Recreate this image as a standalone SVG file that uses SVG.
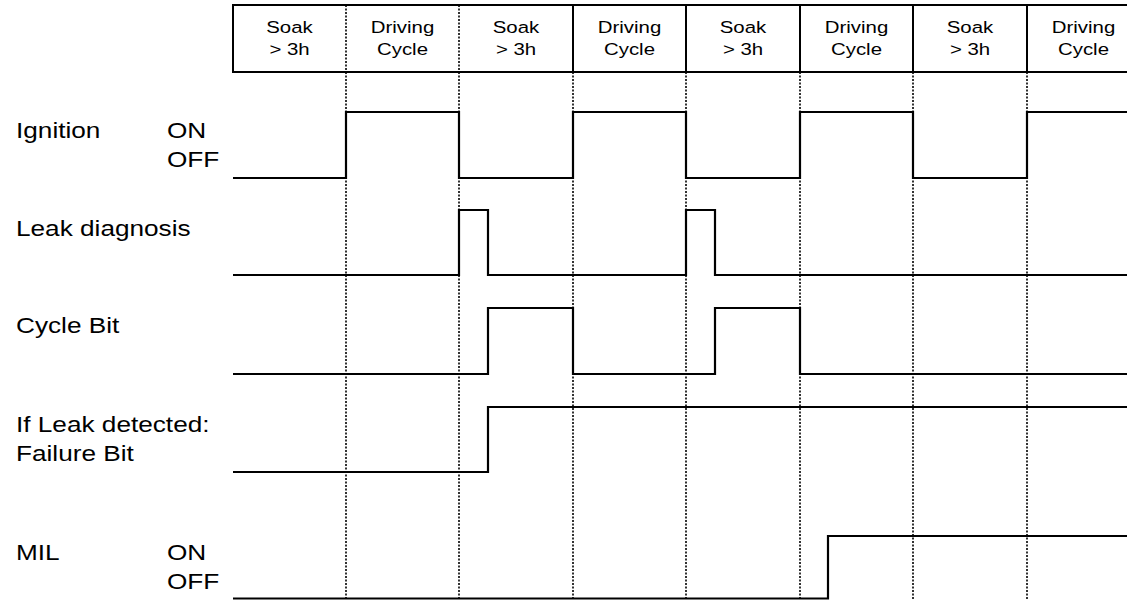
<svg xmlns="http://www.w3.org/2000/svg" width="1127" height="600" viewBox="0 0 1127 600">
<style>
.hdr{font-family:"Liberation Sans",Arial,sans-serif;font-size:17px;fill:#000;text-anchor:middle}
.lbl{font-family:"Liberation Sans",Arial,sans-serif;font-size:22px;fill:#000}
.frame{stroke:#000;stroke-width:2;fill:none}
.grid{stroke:#333;stroke-width:2;stroke-dasharray:2 1.5;fill:none}
.sig{stroke:#000;stroke-width:2.2;fill:none;stroke-linejoin:miter}
</style>
<rect width="1127" height="600" fill="#fff"/>
<g id="grid">
<path class="grid" d="M346,72V600M459,72V600M573,72V600M686,72V600M800,72V600M913,72V600M1027,72V600"/>
<path class="grid" d="M346,5V72M459,5V72"/>
</g>
<g id="header">
<path class="frame" d="M1127,5H233V72H1127M573,5V72M686,5V72M800,5V72M913,5V72M1027,5V72"/>
<g id="col1"><text class="hdr" transform="translate(289.5,33) scale(1.2,1)">Soak</text><text class="hdr" transform="translate(289.5,55) scale(1.2,1)">&gt; 3h</text></g>
<g id="col2"><text class="hdr" transform="translate(402.5,33) scale(1.2,1)">Driving</text><text class="hdr" transform="translate(402.5,55) scale(1.2,1)">Cycle</text></g>
<g id="col3"><text class="hdr" transform="translate(516,33) scale(1.2,1)">Soak</text><text class="hdr" transform="translate(516,55) scale(1.2,1)">&gt; 3h</text></g>
<g id="col4"><text class="hdr" transform="translate(629.5,33) scale(1.2,1)">Driving</text><text class="hdr" transform="translate(629.5,55) scale(1.2,1)">Cycle</text></g>
<g id="col5"><text class="hdr" transform="translate(743,33) scale(1.2,1)">Soak</text><text class="hdr" transform="translate(743,55) scale(1.2,1)">&gt; 3h</text></g>
<g id="col6"><text class="hdr" transform="translate(856.5,33) scale(1.2,1)">Driving</text><text class="hdr" transform="translate(856.5,55) scale(1.2,1)">Cycle</text></g>
<g id="col7"><text class="hdr" transform="translate(970,33) scale(1.2,1)">Soak</text><text class="hdr" transform="translate(970,55) scale(1.2,1)">&gt; 3h</text></g>
<g id="col8"><text class="hdr" transform="translate(1083.5,33) scale(1.2,1)">Driving</text><text class="hdr" transform="translate(1083.5,55) scale(1.2,1)">Cycle</text></g>
</g>
<g id="ignition">
<text class="lbl" transform="translate(16,138) scale(1.19,1)">Ignition</text>
<text class="lbl" transform="translate(167,138) scale(1.19,1)">ON</text>
<text class="lbl" transform="translate(167,167) scale(1.19,1)">OFF</text>
<path class="sig" d="M233,178H346V112H459V178H573V112H686V178H800V112H913V178H1027V112H1127"/>
</g>
<g id="leak-diagnosis">
<text class="lbl" transform="translate(16,236) scale(1.19,1)">Leak diagnosis</text>
<path class="sig" d="M233,275H459V210H488V275H686V210H715V275H1127"/>
</g>
<g id="cycle-bit">
<text class="lbl" transform="translate(16,333) scale(1.19,1)">Cycle Bit</text>
<path class="sig" d="M233,374H488V308H573V374H715V308H800V374H1127"/>
</g>
<g id="failure-bit">
<text class="lbl" transform="translate(16,432) scale(1.19,1)">If Leak detected:</text>
<text class="lbl" transform="translate(16,461) scale(1.19,1)">Failure Bit</text>
<path class="sig" d="M233,472H488V407H1127"/>
</g>
<g id="mil">
<text class="lbl" transform="translate(16,560) scale(1.19,1)">MIL</text>
<text class="lbl" transform="translate(167,560) scale(1.19,1)">ON</text>
<text class="lbl" transform="translate(167,589) scale(1.19,1)">OFF</text>
<path class="sig" d="M233,598.5H828V536H1127"/>
</g>
</svg>
